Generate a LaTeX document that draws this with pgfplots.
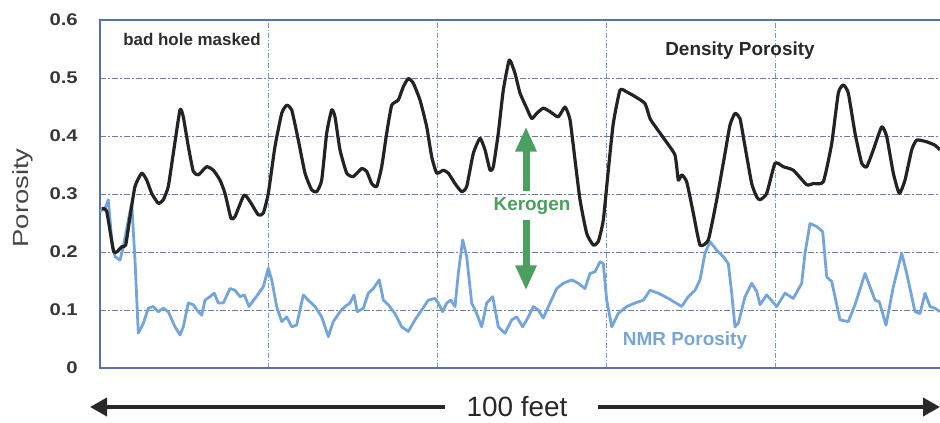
\documentclass[border=0pt]{standalone}
\usepackage{fontspec}
\setmainfont{Liberation Sans}
\usepackage{graphicx}
\usepackage{pgfplots}
\pgfplotsset{compat=1.18}
\usetikzlibrary{arrows.meta}
\definecolor{frameblue}{RGB}{85,115,170}
\definecolor{gridcol}{RGB}{110,125,165}
\definecolor{vgridcol}{RGB}{120,150,200}
\definecolor{densblack}{RGB}{35,35,35}
\definecolor{nmrblue}{RGB}{115,165,220}
\definecolor{nmrtext}{RGB}{120,165,215}
\definecolor{kergreen}{RGB}{75,160,95}
\definecolor{ticktext}{RGB}{55,55,55}
\definecolor{labgray}{RGB}{70,70,70}
\definecolor{annot}{RGB}{45,45,45}
\definecolor{arrowcol}{RGB}{40,40,40}
\begin{document}
\begin{tikzpicture}
\useasboundingbox (0,0) rectangle (940bp,423bp);
\begin{axis}[
  at={(100bp,55bp)}, anchor=south west,
  scale only axis, width=843bp, height=348bp,
  xmin=100, xmax=943, ymin=0, ymax=0.6,
  xtick={268.5,437,606,775}, xticklabels={},
  ytick={0,0.1,0.2,0.3,0.4,0.5,0.6},
  yticklabels={\scalebox{1.2}[1]{0},\scalebox{1.2}[1]{0.1},\scalebox{1.2}[1]{0.2},\scalebox{1.2}[1]{0.3},\scalebox{1.2}[1]{0.4},\scalebox{1.2}[1]{0.5},\scalebox{1.2}[1]{0.6}},
  yticklabel style={font=\bfseries\fontsize{17}{17}\selectfont, text=ticktext, anchor=east, inner sep=0pt, xshift=-22bp},
  major tick length=0pt,
  grid=major,
  x grid style={vgridcol, line width=0.8bp, dash pattern=on 5bp off 2bp on 1bp off 2bp},
  y grid style={gridcol, line width=0.9bp, dash pattern=on 6bp off 2bp on 2bp off 2bp},
  axis line style={frameblue, line width=1.8bp},
  ylabel={\scalebox{1.25}[1]{Porosity}},
  ylabel style={font=\fontsize{22}{22}\selectfont, text=labgray, at={(rel axis cs:-0.0913,0.489)}, anchor=center},
  clip=false,
]
\addplot[nmrblue, line width=2.8bp, line join=round] coordinates {
(100,0.27)(105,0.275)(108.3,0.29)(111.7,0.221)(115,0.192)(120,0.186)(123.3,0.209)(128.3,0.255)(131.7,0.284)(135,0.186)(138.3,0.06)(143.3,0.077)(148.3,0.103)(153.3,0.106)(158.3,0.097)(163.3,0.103)(168.3,0.097)(175,0.071)(180,0.057)(183.3,0.071)(188.3,0.112)(193.3,0.109)(198.3,0.097)(201.7,0.091)(205,0.117)(210,0.123)(214.3,0.129)(218.3,0.112)(223.3,0.112)(230,0.137)(235,0.134)(240,0.123)(244.3,0.126)(249,0.106)(255,0.12)(260,0.132)(263.3,0.14)(268.3,0.172)(271.7,0.152)(276.7,0.106)(281.7,0.08)(286.7,0.088)(291.7,0.071)(296.7,0.074)(303.3,0.126)(308.3,0.117)(315,0.106)(321.7,0.088)(328.3,0.054)(333.3,0.08)(340,0.097)(345,0.106)(350,0.112)(354,0.126)(357.3,0.097)(363.3,0.103)(368.3,0.129)(373.3,0.137)(379.3,0.152)(383.3,0.117)(388.3,0.109)(395,0.094)(401.7,0.071)(408.3,0.063)(415,0.083)(421.7,0.1)(428.3,0.117)(435,0.12)(438.3,0.112)(442.7,0.097)(446.7,0.112)(450.7,0.117)(455,0.106)(458.3,0.163)(462.7,0.221)(466.7,0.192)(471.7,0.112)(476.7,0.094)(481.7,0.071)(486.7,0.112)(492.7,0.123)(498.3,0.071)(505,0.06)(511.7,0.083)(516.7,0.088)(522.7,0.071)(528.3,0.088)(533.3,0.106)(538.3,0.1)(543.3,0.086)(550,0.112)(556.7,0.137)(563.3,0.146)(571.7,0.152)(578.3,0.146)(585,0.137)(590,0.163)(595,0.166)(600,0.183)(603.3,0.18)(606.7,0.117)(611.7,0.071)(618.3,0.094)(626.7,0.106)(635,0.112)(643.3,0.117)(650,0.134)(658.3,0.129)(668.3,0.12)(681.7,0.106)(688.3,0.123)(695,0.134)(700,0.152)(705,0.198)(710,0.218)(716.7,0.203)(723.3,0.192)(728.3,0.18)(731.7,0.129)(735,0.071)(738.3,0.077)(745,0.123)(751.7,0.146)(756.7,0.132)(760,0.109)(766.7,0.126)(776.7,0.106)(785,0.129)(793.3,0.12)(801.7,0.146)(805,0.198)(810,0.249)(816.7,0.244)(822.7,0.235)(826.7,0.157)(831.7,0.149)(840,0.083)(848.3,0.08)(855,0.109)(865,0.163)(875,0.117)(879.3,0.114)(886,0.074)(893.3,0.14)(901.7,0.198)(906.7,0.163)(915,0.097)(920,0.094)(925,0.129)(930,0.106)(935,0.103)(940,0.097)
};
\addplot[densblack, line width=3.2bp, line join=round, smooth, tension=0.3] coordinates {
(101.7,0.275)(106.7,0.27)(113.3,0.203)(116.7,0.20)(121.7,0.209)(125.7,0.212)(130,0.261)(135,0.313)(141.7,0.336)(146.7,0.324)(151.7,0.301)(158.3,0.284)(163.3,0.29)(168.3,0.313)(173.3,0.37)(180,0.445)(183.3,0.433)(188.3,0.382)(193.3,0.339)(198.3,0.333)(206.7,0.347)(213.3,0.341)(220,0.324)(225,0.301)(231,0.258)(235,0.261)(244,0.298)(250,0.287)(258.3,0.264)(263.3,0.267)(268.3,0.301)(275,0.382)(281.7,0.439)(286.7,0.453)(291.7,0.445)(298.3,0.393)(305,0.336)(311.7,0.307)(316.7,0.304)(321.7,0.324)(326.7,0.405)(331.7,0.445)(335,0.433)(340,0.376)(346.7,0.336)(353.3,0.33)(361.7,0.344)(366.7,0.339)(371.7,0.318)(376.7,0.313)(381.7,0.347)(386.7,0.405)(391.7,0.453)(398.3,0.462)(403.3,0.485)(408.3,0.499)(413.3,0.491)(420,0.462)(426.7,0.416)(431.7,0.364)(436.7,0.336)(443.3,0.341)(448.3,0.336)(455,0.318)(461.7,0.304)(466.7,0.313)(473.3,0.37)(480,0.396)(485,0.376)(490,0.341)(493.3,0.347)(498.3,0.405)(503.3,0.479)(509.3,0.531)(515,0.508)(520,0.474)(526.7,0.448)(531.7,0.43)(536.7,0.439)(543.3,0.448)(550,0.442)(558.3,0.433)(565,0.45)(570,0.428)(575,0.359)(580,0.29)(586.7,0.232)(593.3,0.212)(598.3,0.218)(603.3,0.255)(608.3,0.341)(613.3,0.422)(620,0.479)(626.7,0.476)(635,0.468)(645,0.456)(650,0.43)(656.7,0.413)(665,0.393)(675,0.367)(678.3,0.324)(681.7,0.333)(686.7,0.321)(693.3,0.267)(700,0.212)(708.3,0.221)(716.7,0.29)(725,0.37)(730,0.419)(735,0.439)(740,0.43)(745,0.382)(751.7,0.318)(756.7,0.295)(760,0.29)(766.7,0.301)(775,0.353)(783.3,0.347)(793.3,0.341)(806.7,0.316)(813.3,0.318)(823.3,0.321)(831.7,0.387)(838.3,0.474)(843.3,0.488)(848.3,0.474)(855,0.405)(861.7,0.353)(866.7,0.347)(873.3,0.376)(881.7,0.416)(886.7,0.399)(893.3,0.336)(899.3,0.301)(905,0.324)(911.7,0.376)(916.7,0.393)(926.7,0.39)(935,0.384)(940,0.376)
};
\draw[kergreen, line width=7bp, -{Triangle[length=25bp,width=20bp]}] (axis cs:526,0.305) -- (axis cs:526,0.416);
\draw[kergreen, line width=7bp, -{Triangle[length=25bp,width=20bp]}] (axis cs:526,0.255) -- (axis cs:526,0.134);
\node[font=\bfseries\fontsize{19}{19}\selectfont, text=kergreen] at (axis cs:532,0.279) {Kerogen};
\node[font=\bfseries\fontsize{17}{17}\selectfont, text=annot] at (axis cs:192,0.566) {bad hole masked};
\node[font=\bfseries\fontsize{19}{19}\selectfont, text=arrowcol] at (axis cs:740,0.548) {Density Porosity};
\node[font=\bfseries\fontsize{19}{19}\selectfont, text=nmrtext] at (axis cs:685,0.048) {NMR Porosity};
\end{axis}
\draw[line width=4bp, arrowcol, -{Triangle[length=17bp,width=18bp]}] (445bp,16bp) -- (90bp,16bp);
\draw[line width=4bp, arrowcol, -{Triangle[length=17bp,width=18bp]}] (598bp,16bp) -- (940bp,16bp);
\node[font=\fontsize{28}{28}\selectfont, text=arrowcol] at (517bp,16bp) {100 feet};
\end{tikzpicture}
\end{document}
